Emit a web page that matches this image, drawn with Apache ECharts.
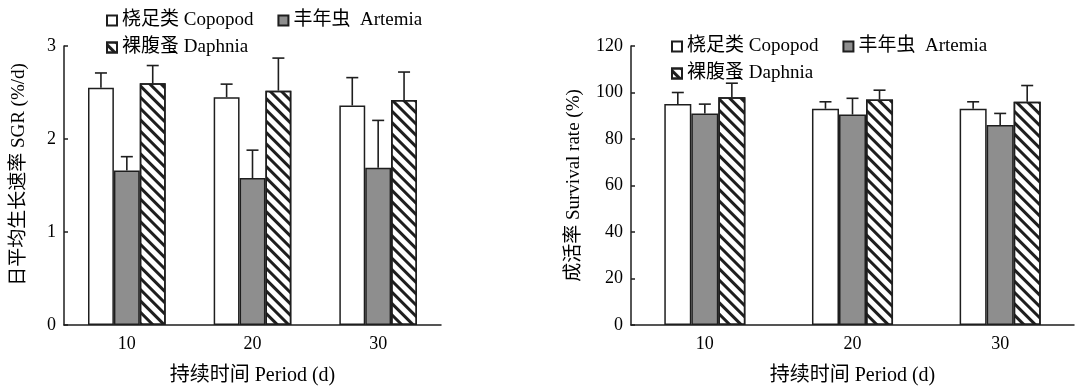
<!DOCTYPE html>
<html>
<head>
<meta charset="utf-8">
<script src="https://cdn.jsdelivr.net/npm/echarts@6/dist/echarts.min.js"></script>
<style>html,body{margin:0;padding:0;background:#fff;}#main{width:1090px;height:391px;}</style>
</head>
<body>
<div id="main"></div>
<script>
const categories = ['10', '20', '30'];
const seriesNames = ['桡足类 Copopod', '丰年虫  Artemia', '裸腹蚤 Daphnia'];

// Left: SGR (%/d)
const sgrCopepod = [2.55, 2.45, 2.36];
const sgrCopepodErr = [0.16, 0.14, 0.30];
const sgrArtemia = [1.66, 1.58, 1.69];
const sgrArtemiaErr = [0.15, 0.30, 0.51];
const sgrDaphnia = [2.60, 2.52, 2.42];
const sgrDaphniaErr = [0.19, 0.35, 0.30];

// Right: Survival rate (%)
const survCopepod = [95, 93, 93];
const survCopepodErr = [5, 3, 3];
const survArtemia = [91, 90.5, 86];
const survArtemiaErr = [4, 7, 5];
const survDaphnia = [98, 97, 96];
const survDaphniaErr = [6, 4, 7];

const FONT = "'Liberation Serif', 'Noto Sans CJK SC', serif";
const INK = '#1e1e1e';

const styles = [
  { color: '#ffffff', borderColor: INK, borderWidth: 1.5 },
  { color: '#8e8e8e', borderColor: INK, borderWidth: 1.5 },
  { color: '#ffffff', borderColor: INK, borderWidth: 1.5,
    decal: { symbol: 'rect', symbolSize: 1, dashArrayX: [1, 0], dashArrayY: [3, 5], rotation: Math.PI / 4, color: INK } }
];

function barSeries(gi, idx, data, frac) {
  return {
    type: 'bar', name: seriesNames[idx], xAxisIndex: gi, yAxisIndex: gi,
    data: data, barWidth: frac * 100 + '%', barGap: '0%',
    itemStyle: styles[idx], emphasis: { disabled: true }, z: 2
  };
}

function errSeries(gi, idx, means, errs, frac) {
  return {
    type: 'custom', name: 'err' + gi + '_' + idx, xAxisIndex: gi, yAxisIndex: gi, z: 3,
    data: means.map((m, i) => [i, m, m + errs[i]]),
    encode: { x: 0, y: [1, 2] },
    silent: true,
    renderItem: function (params, api) {
      const x = api.value(0);
      const lo = api.coord([x, api.value(1)]);
      const hi = api.coord([x, api.value(2)]);
      const cw = api.size([1, 0])[0];
      const cx = lo[0] + (idx - 1) * cw * frac;
      const st = { stroke: INK, lineWidth: 1.6 };
      return {
        type: 'group', children: [
          { type: 'line', shape: { x1: cx, y1: lo[1], x2: cx, y2: hi[1] }, style: st },
          { type: 'line', shape: { x1: cx - 6, y1: hi[1], x2: cx + 6, y2: hi[1] }, style: st }
        ]
      };
    }
  };
}

function xAx(gi) {
  return {
    type: 'category', gridIndex: gi, data: categories,
    axisLine: { lineStyle: { color: INK, width: 1.5 } },
    axisTick: { inside: true, length: 4, lineStyle: { color: INK, width: 1.5 } },
    axisLabel: { color: '#000', fontFamily: FONT, fontSize: 18, margin: 10 },
    name: '持续时间 Period (d)', nameLocation: 'middle', nameGap: 41,
    nameTextStyle: { color: '#000', fontFamily: FONT, fontSize: 20 }
  };
}

function yAx(gi, max, interval, name, gap, shift) {
  return {
    type: 'value', gridIndex: gi, min: 0, max: max, interval: interval,
    axisLine: { show: true, lineStyle: { color: INK, width: 1.5 } },
    axisTick: { show: true, inside: true, length: 4, lineStyle: { color: INK, width: 1.5 } },
    splitLine: { show: false },
    axisLabel: { color: '#000', fontFamily: FONT, fontSize: 18, margin: 8 },
    name: name, nameLocation: 'middle', nameGap: gap,
    nameTextStyle: { color: '#000', fontFamily: FONT, fontSize: 19, padding: [0, 0, 0, shift] }
  };
}

const legendText = { color: '#000', fontFamily: FONT, fontSize: 19 };
function legend(left, top, names) {
  return {
    left: left, top: top, orient: 'horizontal', itemWidth: 10, itemHeight: 10, itemGap: 24,
    padding: 0, data: names, textStyle: legendText, selectedMode: false, icon: 'rect'
  };
}

const fL = 0.206, fR = 0.183;
const chart = echarts.init(document.getElementById('main'));
chart.setOption({
  animation: false,
  backgroundColor: '#fff',
  grid: [
    { left: 64, right: 649, top: 46, bottom: 60 },
    { left: 631, right: 16, top: 46, bottom: 60 }
  ],
  legend: [
    legend(106, 11, [seriesNames[0], seriesNames[1]]),
    legend(106, 38, [seriesNames[2]]),
    legend(671, 37, [seriesNames[0], seriesNames[1]]),
    legend(671, 64, [seriesNames[2]])
  ],
  xAxis: [xAx(0), xAx(1)],
  yAxis: [
    yAx(0, 3, 1, '日平均生长速率 SGR (%/d)', 35, 22),
    yAx(1, 120, 20, '成活率 Survival rate (%)', 47, 0)
  ],
  series: [
    barSeries(0, 0, sgrCopepod, fL), barSeries(0, 1, sgrArtemia, fL), barSeries(0, 2, sgrDaphnia, fL),
    errSeries(0, 0, sgrCopepod, sgrCopepodErr, fL), errSeries(0, 1, sgrArtemia, sgrArtemiaErr, fL), errSeries(0, 2, sgrDaphnia, sgrDaphniaErr, fL),
    barSeries(1, 0, survCopepod, fR), barSeries(1, 1, survArtemia, fR), barSeries(1, 2, survDaphnia, fR),
    errSeries(1, 0, survCopepod, survCopepodErr, fR), errSeries(1, 1, survArtemia, survArtemiaErr, fR), errSeries(1, 2, survDaphnia, survDaphniaErr, fR)
  ]
});
</script>
</body>
</html>
